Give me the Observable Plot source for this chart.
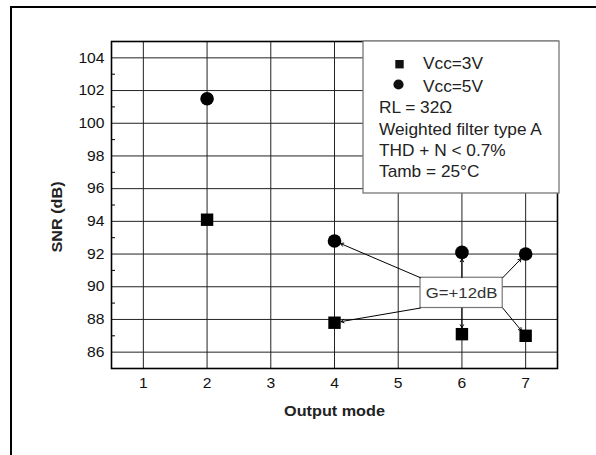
<!DOCTYPE html>
<html>
<head>
<meta charset="utf-8">
<script src="https://cdn.jsdelivr.net/npm/d3@7"></script>
<script src="https://cdn.jsdelivr.net/npm/@observablehq/plot@0.6"></script>
<style>
  body { margin: 0; background: #fff; }
  #wrap { position: relative; width: 596px; height: 455px; overflow: hidden; font-family: "Liberation Sans", Arial, sans-serif; }
  #outer { position: absolute; left: 10px; top: 6px; right: -10px; bottom: -10px; border-top: 2.5px solid #000; border-left: 2.5px solid #000; }
  svg { position: absolute; left: 0; top: 0; }
</style>
</head>
<body>
<div id="wrap">
  <div id="outer"></div>
</div>
<script>
// ---- data ----
const modes = [2, 4, 6, 7];
const snr3V = [94.1, 87.8, 87.1, 87.0];
const snr5V = [101.5, 92.8, 92.1, 92.0];
const xTicks = [1, 2, 3, 4, 5, 6, 7];
const yTicks = [86, 88, 90, 92, 94, 96, 98, 100, 102, 104];
const yMinor = [85, 87, 89, 91, 93, 95, 97, 99, 101, 103];
const xLabel = "Output mode";
const yLabel = "SNR (dB)";
const series = ["Vcc=3V", "Vcc=5V"];
const notes = ["RL = 32\u03A9", "Weighted filter type A", "THD + N < 0.7%", "Tamb = 25\u00B0C"];
const gainLabel = "G=+12dB";
// annotation box (data units)
const gainBoxX = [5.35, 6.64];
const gainBoxY = [88.7, 90.55];
// arrow start anchors for each point (data units)
const arrowFromX = [null, 5.35, 6.0, 6.64];

const pts3 = modes.map((m, i) => ({mode: m, snr: snr3V[i]}));
const pts5 = modes.map((m, i) => ({mode: m, snr: snr5V[i]}));
const arrows = [];
modes.forEach((m, i) => {
  if (arrowFromX[i] != null) {
    arrows.push({x1: arrowFromX[i], y1: gainBoxY[1], x2: m, y2: snr5V[i]});
    arrows.push({x1: arrowFromX[i], y1: gainBoxY[0], x2: m, y2: snr3V[i]});
  }
});

const font = '"Liberation Sans", Arial, sans-serif';
const stretch = 1.08;

const chart = Plot.plot({
  width: 596,
  height: 455,
  marginLeft: 111,
  marginTop: 41,
  marginRight: 39,
  marginBottom: 87,
  style: {fontFamily: font, fontSize: "14.5px", color: "#111", background: "transparent"},
  x: {domain: [0.5, 7.5], ticks: xTicks},
  y: {domain: [85, 105], ticks: yTicks},
  marks: [
    Plot.gridX(xTicks, {stroke: "#222", strokeOpacity: 1, strokeWidth: 1}),
    Plot.gridY(yTicks, {stroke: "#222", strokeOpacity: 1, strokeWidth: 1}),
    Plot.axisX(xTicks, {tickSize: 0, tickPadding: 9, label: null, fontSize: 14.5}),
    Plot.axisY(yTicks, {tickSize: 0, tickPadding: 7, label: null, fontSize: 14.5}),
    Plot.axisY(yMinor, {tickSize: -4, text: null, label: null, stroke: "#000"}),
    Plot.frame({stroke: "#000", strokeWidth: 1.6}),
    Plot.rect([0], {x1: () => gainBoxX[0], x2: () => gainBoxX[1], y1: () => gainBoxY[0], y2: () => gainBoxY[1], fill: "#fff", stroke: "#777", strokeWidth: 1.2}),
    Plot.text([gainLabel], {x: () => (gainBoxX[0] + gainBoxX[1]) / 2, y: () => (gainBoxY[0] + gainBoxY[1]) / 2, text: d => d, fontSize: 15.5, fill: "#333"}),
    Plot.arrow(arrows, {x1: "x1", y1: "y1", x2: "x2", y2: "y2", stroke: "#000", strokeWidth: 1, headLength: 5, insetEnd: 6.5}),
    Plot.dot(pts3, {x: "mode", y: "snr", symbol: "square", r: 7, fill: "#000"}),
    Plot.dot(pts5, {x: "mode", y: "snr", symbol: "circle", r: 6.8, fill: "#000"}),
    Plot.text([xLabel], {frameAnchor: "bottom", dy: 47, text: d => d, fontWeight: "bold", fontSize: 15, fill: "#222"}),
    Plot.text([yLabel], {frameAnchor: "left", textAnchor: "middle", dx: -54, dy: 12, rotate: -90, text: d => d, fontWeight: "bold", fontSize: 15, fill: "#222"})
  ]
});
// slight horizontal stretch of the type, as in the reference
d3.select(chart).selectAll("text").each(function () {
  const t = this.getAttribute("transform") || "";
  this.setAttribute("transform", (t + ` scale(${stretch},1)`).trim());
});
const wrap = document.getElementById("wrap");
wrap.appendChild(chart);

// legend box (overlay)
const lg = d3.select(wrap).append("svg")
  .attr("width", 596).attr("height", 455)
  .style("font-family", font).style("font-size", "16px");
lg.append("rect").attr("x", 363).attr("y", 41).attr("width", 196).attr("height", 152)
  .attr("fill", "#fff").attr("stroke", "#777").attr("stroke-width", 1.3);
lg.append("rect").attr("x", 395.3).attr("y", 60).attr("width", 8.4).attr("height", 8.4).attr("fill", "#111");
lg.append("circle").attr("cx", 398.5).attr("cy", 84.5).attr("r", 5.1).attr("fill", "#111");
const seriesBase = [69, 91.5];
series.forEach((s, i) => {
  lg.append("text").attr("transform", `translate(423,${seriesBase[i]}) scale(${stretch},1)`).attr("fill", "#222").text(s);
});
const notesBase = [113, 134.5, 156, 177];
notes.forEach((n, i) => {
  lg.append("text").attr("transform", `translate(379,${notesBase[i]}) scale(${stretch},1)`).attr("fill", "#222").text(n);
});
</script>
</body>
</html>
